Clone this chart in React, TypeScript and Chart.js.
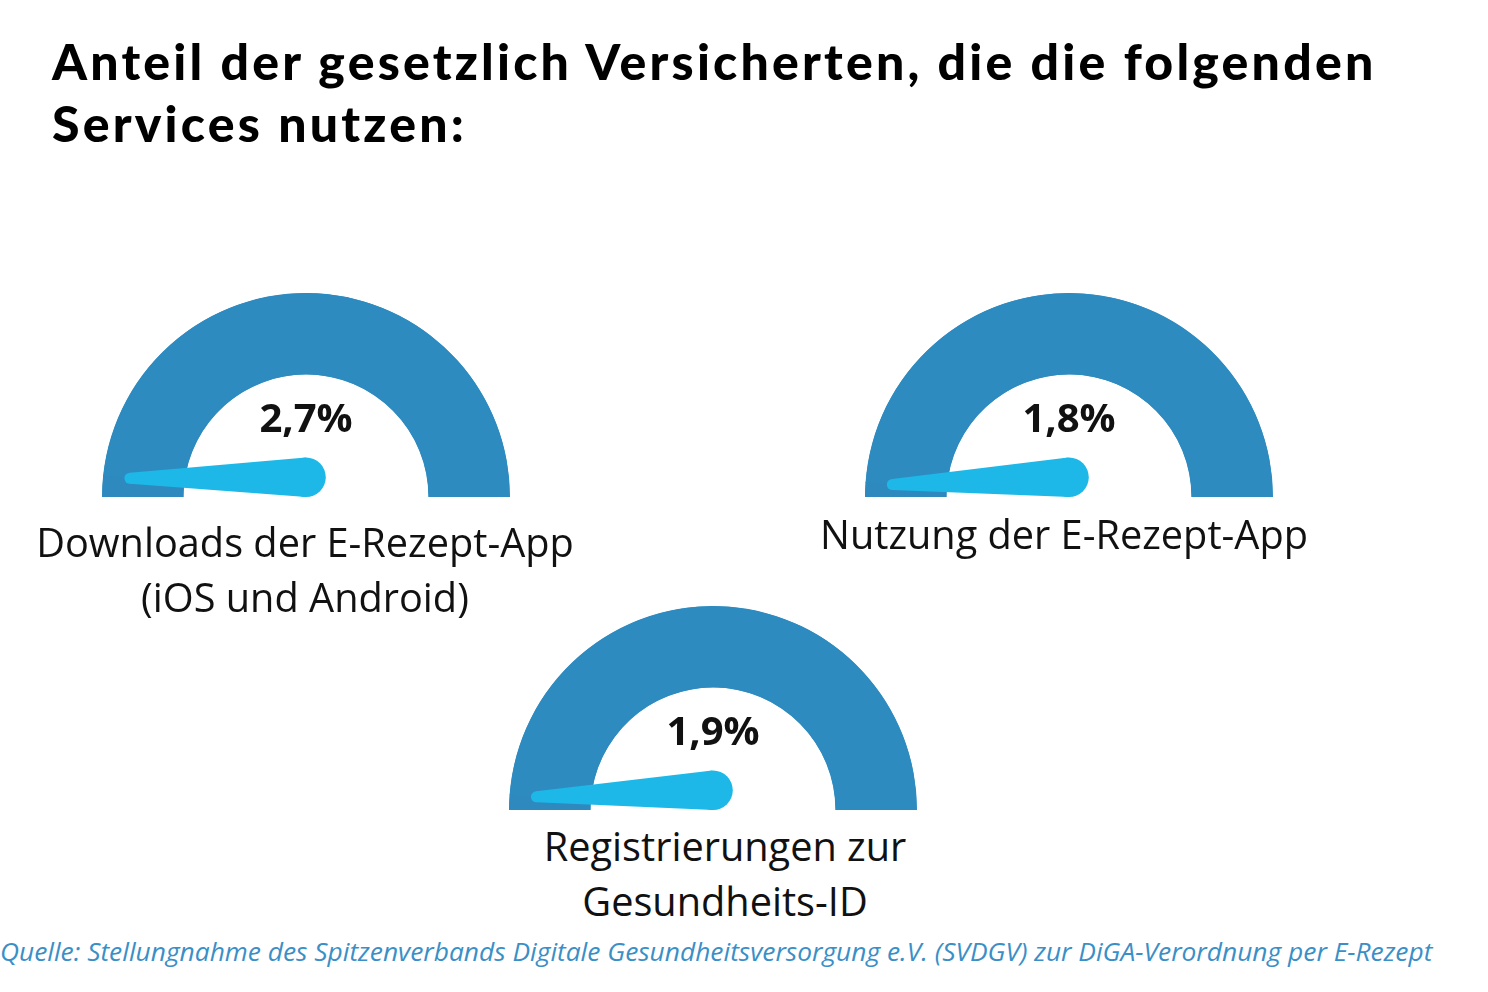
import React, { useEffect, useRef } from "react";
import { Chart, registerables } from "chart.js";

Chart.register(...registerables);

const TITLE_LINES = ["Anteil der gesetzlich Versicherten, die die folgenden", "Services nutzen:"];
const categories = [
  ["Downloads der E-Rezept-App", "(iOS und Android)"],
  ["Nutzung der E-Rezept-App"],
  ["Registrierungen zur", "Gesundheits-ID"],
];
const values = [2.7, 1.8, 1.9];
const valueLabels = ["2,7%", "1,8%", "1,9%"];
const GAUGE_MAX = 80;
const SOURCE = "Quelle: Stellungnahme des Spitzenverbands Digitale Gesundheitsversorgung e.V. (SVDGV) zur DiGA-Verordnung per E-Rezept";

const ARC_COLOR = "#2E8BC0";
const ARC_VALUE_COLOR = "#2E89BF";
const NEEDLE_COLOR = "#1DB8E7";

// layout of each gauge panel
const gaugeBoxes = [
  { left: 102, top: 293, labelTop: 515, labelCenter: 305 },
  { left: 865, top: 293, labelTop: 507, labelCenter: 1064 },
  { left: 509, top: 606, labelTop: 819, labelCenter: 725 },
];
const GW = 408;
const GH = 204;

const needlePlugin = {
  id: "needle",
  afterDatasetsDraw(chart: any, _args: any, opts: any) {
    const meta = chart.getDatasetMeta(0);
    const arc = meta.data[0];
    if (!arc) return;
    const p = arc.getProps(["x", "y", "outerRadius", "innerRadius", "endAngle"], true);
    const ctx = chart.ctx;
    const R = p.outerRadius;
    const rTip = p.innerRadius + 0.67 * (p.outerRadius - p.innerRadius);
    const tx = p.x + rTip * Math.cos(p.endAngle);
    const ty = p.y + rTip * Math.sin(p.endAngle);
    const px = p.x;
    const py = p.y - R * 0.097;
    const rb = R * 0.097;
    const rt = 5.5;
    const dx = tx - px;
    const dy = ty - py;
    const len = Math.hypot(dx, dy);
    const nx = -dy / len;
    const ny = dx / len;
    ctx.save();
    ctx.fillStyle = NEEDLE_COLOR;
    ctx.beginPath();
    ctx.moveTo(px + nx * rb, py + ny * rb);
    ctx.lineTo(tx + nx * rt, ty + ny * rt);
    ctx.lineTo(tx - nx * rt, ty - ny * rt);
    ctx.lineTo(px - nx * rb, py - ny * rb);
    ctx.closePath();
    ctx.fill();
    ctx.beginPath();
    ctx.arc(px, py, rb, 0, Math.PI * 2);
    ctx.fill();
    ctx.beginPath();
    ctx.arc(tx, ty, rt, 0, Math.PI * 2);
    ctx.fill();
    // value text
    ctx.fillStyle = "#111111";
    ctx.font = "bold 40px 'Open Sans'";
    ctx.textAlign = "center";
    ctx.textBaseline = "middle";
    ctx.fillText(opts.text, p.x, p.y - R * 0.375);
    ctx.restore();
  },
};

function Gauge({ value, text, box }: { value: number; text: string; box: any }) {
  const ref = useRef<HTMLCanvasElement | null>(null);
  useEffect(() => {
    if (!ref.current) return;
    const chart = new Chart(ref.current, {
      type: "doughnut",
      data: {
        labels: ["Wert", "Rest"],
        datasets: [
          {
            data: [value, GAUGE_MAX - value],
            backgroundColor: [ARC_VALUE_COLOR, ARC_COLOR],
            borderColor: [ARC_VALUE_COLOR, ARC_COLOR],
            borderWidth: 1,
            borderAlign: "inner",
          },
        ],
      },
      options: {
        responsive: false,
        animation: false,
        events: [],
        rotation: -90,
        circumference: 180,
        cutout: "60%",
        layout: { padding: 0 },
        plugins: {
          legend: { display: false },
          tooltip: { enabled: false },
          needle: { text },
        } as any,
      },
      plugins: [needlePlugin],
    });
    return () => chart.destroy();
  }, [value, text]);
  return (
    <canvas
      ref={ref}
      width={GW}
      height={GH}
      style={{ position: "absolute", left: box.left, top: box.top, width: GW, height: GH }}
    />
  );
}

export default function App() {
  return (
    <div
      style={{
        position: "fixed",
        left: 0,
        top: 0,
        width: 1488,
        height: 992,
        background: "#ffffff",
        overflow: "hidden",
      }}
    >
      <div
        style={{
          position: "absolute",
          left: 52,
          top: 30,
          fontFamily: "Lato, sans-serif",
          fontWeight: 900,
          fontSize: 50,
          letterSpacing: 3.2,
          lineHeight: "62px",
          color: "#000",
          whiteSpace: "nowrap",
        }}
      >
        {TITLE_LINES.map((l, i) => (
          <div key={i}>{l}</div>
        ))}
      </div>
      {values.map((v, i) => (
        <Gauge key={i} value={v} text={valueLabels[i]} box={gaugeBoxes[i]} />
      ))}
      {categories.map((lines, i) => (
        <div
          key={"l" + i}
          style={{
            position: "absolute",
            left: gaugeBoxes[i].labelCenter - 400,
            width: 800,
            top: gaugeBoxes[i].labelTop,
            textAlign: "center",
            fontFamily: "'Open Sans', sans-serif",
            fontSize: 39.7,
            lineHeight: "55px",
            color: "#111",
          }}
        >
          {lines.map((l, j) => (
            <div key={j}>{l}</div>
          ))}
        </div>
      ))}
      <div
        style={{
          position: "absolute",
          left: 0,
          top: 934,
          fontFamily: "'Open Sans', sans-serif",
          fontStyle: "italic",
          fontSize: 26.35,
          lineHeight: "34px",
          color: "#3A8FC7",
          whiteSpace: "nowrap",
        }}
      >
        {SOURCE}
      </div>
    </div>
  );
}
